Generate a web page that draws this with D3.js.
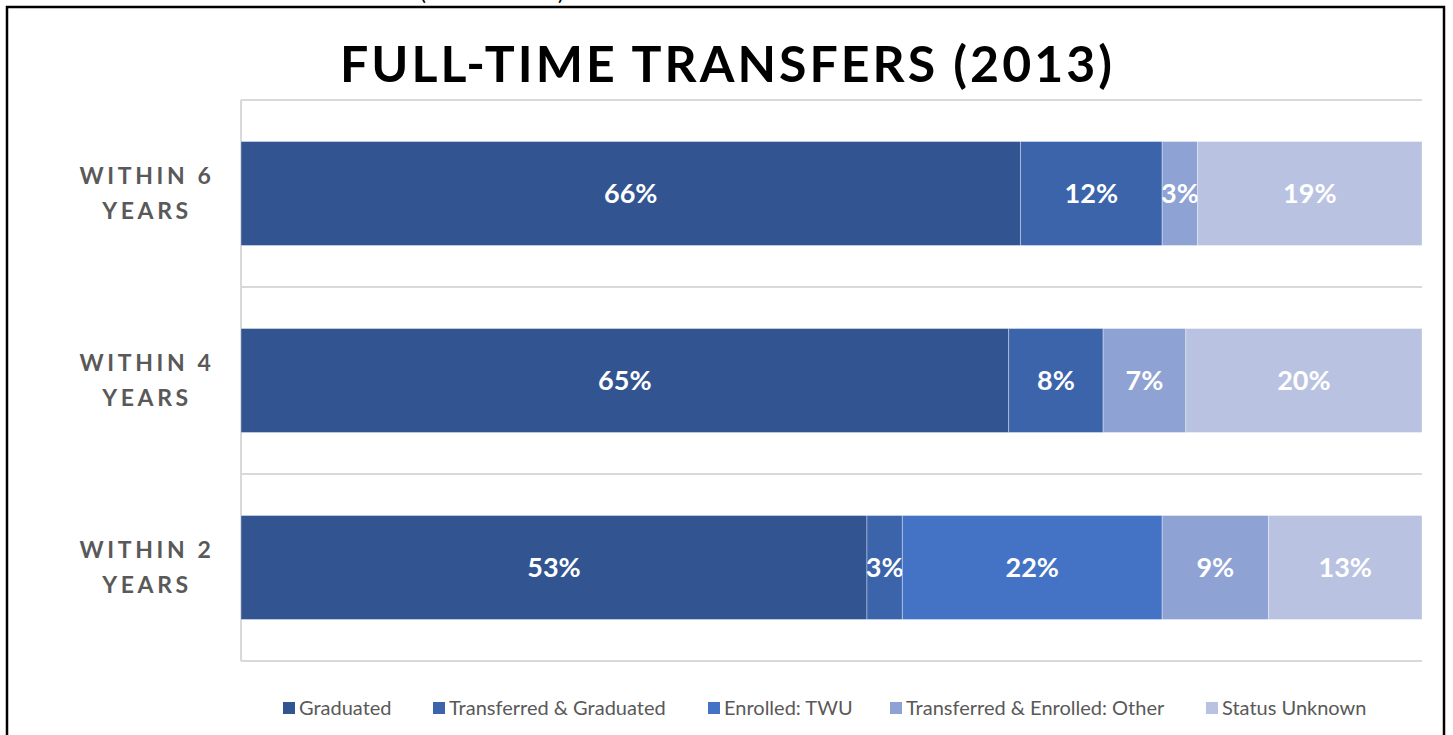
<!DOCTYPE html>
<html>
<head>
<meta charset="utf-8">
<script src="https://cdn.jsdelivr.net/npm/d3@7"></script>
<style>
  body { margin: 0; background: #fff; }
  svg { display: block; font-family: Lato, "Open Sans", sans-serif; }
</style>
</head>
<body>
<svg id="chart" width="1453" height="735"></svg>
<script>
// ============= Data =============
const categories = ["WITHIN 6 YEARS", "WITHIN 4 YEARS", "WITHIN 2 YEARS"];
const categoryLines = [["WITHIN 6", "YEARS"], ["WITHIN 4", "YEARS"], ["WITHIN 2", "YEARS"]];
const seriesNames = [
  "Graduated",
  "Transferred & Graduated",
  "Enrolled: TWU",
  "Transferred & Enrolled: Other",
  "Status Unknown",
];
const graduated = [66, 65, 53];
const transferredGraduated = [12, 8, 3];
const enrolledTWU = [0, 0, 22];
const transferredOther = [3, 7, 9];
const statusUnknown = [19, 20, 13];
const seriesColors = ["#325592", "#3c64ab", "#4472c4", "#8fa2d4", "#b9c3e1"];
const title = "FULL-TIME TRANSFERS (2013)";

const seriesValues = [graduated, transferredGraduated, enrolledTWU, transferredOther, statusUnknown];
const rows = categories.map((c, i) => {
  const row = { category: c };
  seriesNames.forEach((s, j) => (row[s] = seriesValues[j][i]));
  return row;
});

// ============= Layout =============
const MARGIN = { LEFT: 241, TOP: 100, RIGHT: 1422, BOTTOM: 661 };
const GRID = "#d9d9d9";
const TEXT = "#595959";

const svg = d3.select("#chart");

// clipped text from the slide above (only the parenthesis tails show)
svg.append("g")
  .selectAll("text")
  .data([["(", 420], [")", 558]])
  .enter()
  .append("text")
  .attr("x", (d) => d[1])
  .attr("y", 0)
  .attr("font-size", 22)
  .attr("fill", "#000")
  .text((d) => d[0]);

// outer border (bottom edge runs off the page)
svg.append("rect")
  .attr("x", 7).attr("y", 7)
  .attr("width", 1437).attr("height", 760)
  .attr("fill", "none")
  .attr("stroke", "#000")
  .attr("stroke-width", 2.5);

// title
svg.append("text")
  .attr("x", 726).attr("y", 82)
  .attr("text-anchor", "middle")
  .attr("font-size", 50)
  .attr("font-weight", 700)
  .attr("fill", "#000")
  .attr("textLength", 772)
  .attr("lengthAdjust", "spacing")
  .text(title);

const xScale = d3.scaleLinear().domain([0, 100]).range([MARGIN.LEFT, MARGIN.RIGHT]);
const yScale = d3.scaleBand()
  .domain(categories)
  .range([MARGIN.TOP, MARGIN.BOTTOM])
  .paddingInner(0.444)
  .paddingOuter(0.222);

// category gridlines at band boundaries
const step = yScale.step();
const boundaries = d3.range(categories.length + 1).map((i) => MARGIN.TOP + i * step);
svg.append("g").selectAll("line")
  .data(boundaries)
  .enter()
  .append("line")
  .attr("x1", MARGIN.LEFT).attr("x2", MARGIN.RIGHT)
  .attr("y1", (d) => d).attr("y2", (d) => d)
  .attr("stroke", GRID)
  .attr("stroke-width", 2);

// vertical axis line
svg.append("line")
  .attr("x1", MARGIN.LEFT).attr("x2", MARGIN.LEFT)
  .attr("y1", MARGIN.TOP).attr("y2", MARGIN.BOTTOM)
  .attr("stroke", GRID)
  .attr("stroke-width", 2);

// stacked bars
const stacked = d3.stack().keys(seriesNames)(rows);

const layers = svg.append("g")
  .selectAll("g")
  .data(stacked)
  .enter()
  .append("g")
  .attr("fill", (d, i) => seriesColors[i]);

layers.selectAll("rect")
  .data((d) => d.filter((p) => p[1] - p[0] > 0))
  .enter()
  .append("rect")
  .attr("x", (d) => xScale(d[0]))
  .attr("y", (d) => yScale(d.data.category))
  .attr("width", (d) => xScale(d[1]) - xScale(d[0]))
  .attr("height", yScale.bandwidth())
  .attr("stroke", "rgba(255,255,255,0.35)")
  .attr("stroke-width", 1);

layers.selectAll("text")
  .data((d) => d.filter((p) => p[1] - p[0] > 0))
  .enter()
  .append("text")
  .attr("x", (d) => (xScale(d[0]) + xScale(d[1])) / 2)
  .attr("y", (d) => yScale(d.data.category) + yScale.bandwidth() / 2)
  .attr("dy", "0.36em")
  .attr("text-anchor", "middle")
  .attr("font-size", 27)
  .attr("font-weight", 700)
  .attr("fill", "#fff")
  .text((d) => `${d[1] - d[0]}%`);

// category labels
const catLabels = svg.append("g")
  .selectAll("text")
  .data(categories)
  .enter()
  .append("text")
  .attr("x", 145)
  .attr("y", (d) => yScale(d) + yScale.bandwidth() / 2)
  .attr("text-anchor", "middle")
  .attr("font-size", 23)
  .attr("font-weight", 700)
  .attr("letter-spacing", 3.6)
  .attr("fill", TEXT);

catLabels.each(function (d, i) {
  const t = d3.select(this);
  categoryLines[i].forEach((line, k) => {
    t.append("tspan")
      .attr("x", 147)
      .attr("dy", k === 0 ? "-0.4em" : "1.5em")
      .text(line);
  });
});

// legend
const legendX = [283, 433, 708, 890, 1206];
const legend = svg.append("g")
  .selectAll("g")
  .data(seriesNames)
  .enter()
  .append("g")
  .attr("transform", (d, i) => `translate(${legendX[i]},708)`);

legend.append("rect")
  .attr("x", 0).attr("y", -6)
  .attr("width", 12).attr("height", 12)
  .attr("fill", (d, i) => seriesColors[i]);

legend.append("text")
  .attr("x", 16)
  .attr("dy", "0.36em")
  .attr("font-size", 20)
  .attr("fill", TEXT)
  .text((d) => d);
</script>
</body>
</html>
